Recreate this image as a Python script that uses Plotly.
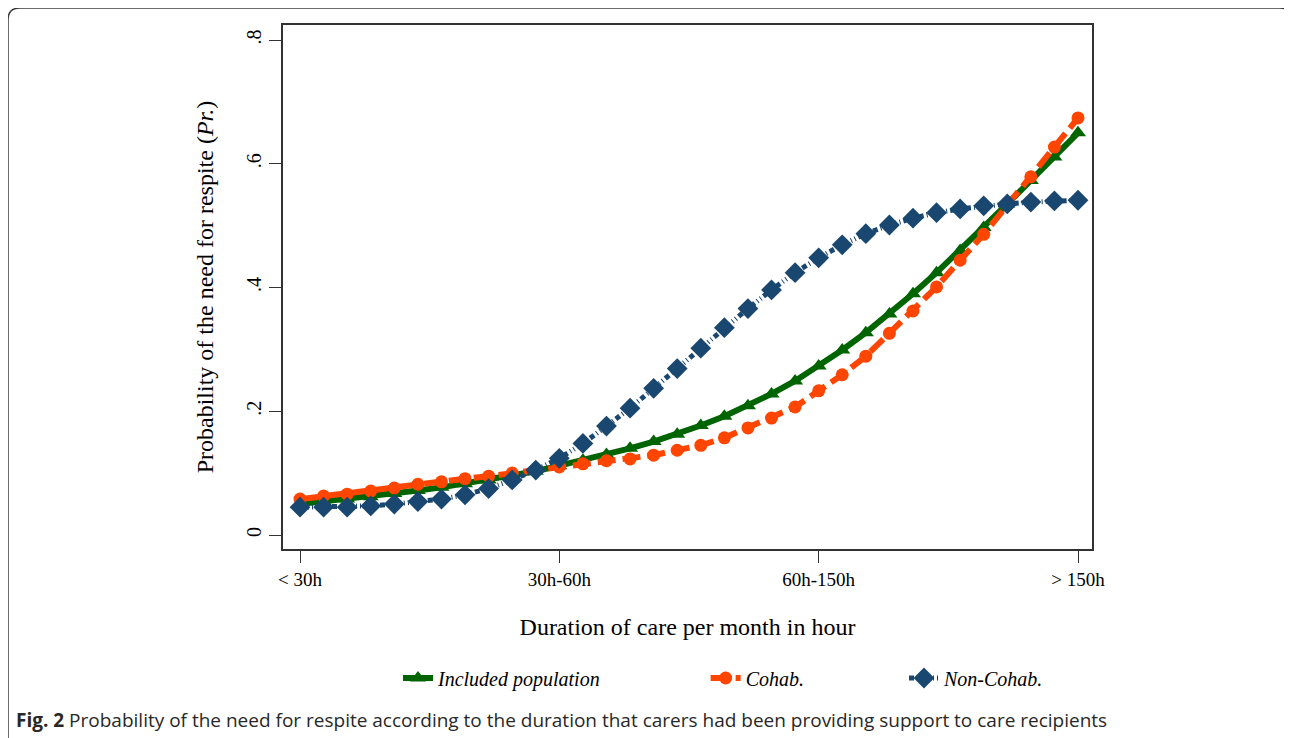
import numpy as np
import plotly.graph_objects as go

# ---- data ----
categories = ["< 30h", "30h-60h", "60h-150h", "> 150h"]
cat_positions = [1, 2, 3, 4]
n_points = 34

included_population = [0.050, 0.054, 0.058, 0.062, 0.067, 0.072, 0.077, 0.083, 0.089, 0.096,
                       0.103, 0.112, 0.121, 0.130, 0.140, 0.151, 0.163, 0.177, 0.192, 0.209,
                       0.228, 0.249, 0.273, 0.299, 0.327, 0.357, 0.390, 0.424, 0.460, 0.497,
                       0.535, 0.573, 0.611, 0.650]
cohab = [0.058, 0.063, 0.066, 0.071, 0.076, 0.082, 0.086, 0.091, 0.095, 0.100,
         0.105, 0.110, 0.115, 0.120, 0.123, 0.129, 0.137, 0.145, 0.157, 0.173,
         0.189, 0.207, 0.233, 0.259, 0.289, 0.326, 0.362, 0.401, 0.444, 0.486,
         0.533, 0.579, 0.627, 0.674]
non_cohab = [0.045, 0.045, 0.045, 0.047, 0.050, 0.054, 0.058, 0.065, 0.075, 0.089,
             0.105, 0.124, 0.148, 0.176, 0.205, 0.237, 0.269, 0.302, 0.335, 0.366,
             0.396, 0.424, 0.448, 0.469, 0.487, 0.501, 0.512, 0.521, 0.527, 0.532,
             0.535, 0.538, 0.540, 0.541]

y_ticks = [0, 0.2, 0.4, 0.6, 0.8]
y_ticktext = ["0", ".2", ".4", ".6", ".8"]

x = np.linspace(cat_positions[0], cat_positions[-1], n_points)

GREEN = "rgb(0,100,0)"
ORANGE = "rgb(255,69,0)"
NAVY = "rgb(26,71,111)"
SERIF = "Liberation Serif, Times New Roman, serif"
NB = "\u00a0"

fig = go.Figure()
fig.add_trace(go.Scatter(
    x=x, y=included_population, mode="lines+markers",
    name="<i>Included population</i>" + NB * 20,
    line=dict(color=GREEN, width=6),
    marker=dict(symbol="triangle-up", size=14, color=GREEN)))
fig.add_trace(go.Scatter(
    x=x, y=cohab, mode="lines+markers", name="<i>Cohab.</i>" + NB * 19,
    line=dict(color=ORANGE, width=6, dash="18px,7px"),
    marker=dict(symbol="circle", size=13, color=ORANGE)))
fig.add_trace(go.Scatter(
    x=x, y=non_cohab, mode="lines+markers", name="<i>Non-Cohab.</i>",
    line=dict(color=NAVY, width=5, dash="5px,3px,1px,3px,1px,3px"),
    marker=dict(symbol="diamond", size=16, color=NAVY)))

# the page has an 8px body margin, so all pixel positions are shifted by 8
OFF = 8
W, H = 1292 - OFF, 738 - OFF
L, R, T, B = 283 - OFF, 1092 - OFF, 25 - OFF, 549 - OFF


def px(xp, yp):
    xp -= OFF
    yp -= OFF
    return (xp - L) / (R - L), (B - yp) / (B - T)


# outer rounded frame of the journal figure
x0, y0 = px(8, 8)
x1, y1 = px(1292, 745)
rx = 12 / (R - L)
ry = 12 / (B - T)
path = (f"M {x0 + rx},{y0} L {x1 - rx},{y0} Q {x1},{y0} {x1},{y0 - ry} "
        f"L {x1},{y1} L {x0},{y1} L {x0},{y0 - ry} Q {x0},{y0} {x0 + rx},{y0} Z")
fig.add_shape(type="path", path=path, xref="paper", yref="paper",
              line=dict(color="rgb(60,60,60)", width=1.5), layer="below")

cx, cy = px(14, 720)
fig.add_annotation(
    x=cx, y=cy, xref="paper", yref="paper", xanchor="left", yanchor="middle",
    showarrow=False,
    text="<b>Fig. 2</b> Probability of the need for respite according to the duration that carers had been providing support to care recipients",
    font=dict(family="Open Sans, sans-serif", size=19, color="rgb(40,40,40)"))

lx, ly = px(398, 678)

fig.update_layout(
    width=W, height=H,
    margin=dict(l=L, r=W - R, t=T, b=H - B, autoexpand=False),
    paper_bgcolor="white", plot_bgcolor="white",
    showlegend=True,
    legend=dict(orientation="h", x=lx, y=ly, xanchor="left", yanchor="middle",
                font=dict(family=SERIF, size=20, color="black"),
                tracegroupgap=0, bgcolor="rgba(0,0,0,0)"),
    xaxis=dict(range=[1 - 17 / 259.3, 4 + 14 / 259.3], tickvals=cat_positions, ticktext=categories,
               showgrid=False, zeroline=False, showline=True, mirror=True,
               linecolor="rgb(50,50,50)", linewidth=1.5,
               ticks="outside", ticklen=12, tickcolor="rgb(50,50,50)",
               tickfont=dict(family=SERIF, size=19, color="black"),
               title=dict(text="Duration of care per month in hour",
                          font=dict(family=SERIF, size=24, color="black"), standoff=30)),
    yaxis=dict(range=[-14 / 618.75, 0.8 + 15 / 618.75], tickvals=y_ticks, ticktext=y_ticktext,
               tickangle=-90,
               showgrid=False, zeroline=False, showline=True, mirror=True,
               linecolor="rgb(50,50,50)", linewidth=1.5,
               ticks="outside", ticklen=12, tickcolor="rgb(50,50,50)",
               tickfont=dict(family=SERIF, size=20, color="black"),
               title=dict(text="Probability of the need for respite (<i>Pr.</i>)",
                          font=dict(family=SERIF, size=24, color="black"), standoff=23)),
)

fig.write_html("out.html")
